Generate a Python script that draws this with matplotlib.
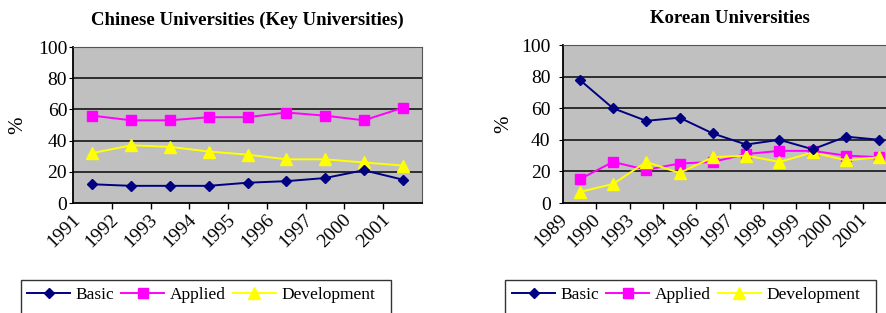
import matplotlib
matplotlib.use("Agg")
import matplotlib.pyplot as plt
import matplotlib.transforms as mtransforms
from matplotlib.patches import Rectangle

plt.rcParams['font.family'] = ['Liberation Serif', 'DejaVu Serif']

# data
cn_years = ['1991', '1992', '1993', '1994', '1995', '1996', '1997', '2000', '2001']
cn_basic = [12, 11, 11, 11, 13, 14, 16, 21, 15]
cn_applied = [56, 53, 53, 55, 55, 58, 56, 53, 61]
cn_development = [32, 37, 36, 33, 31, 28, 28, 26, 24]

kr_years = ['1989', '1990', '1993', '1994', '1996', '1997', '1998', '1999', '2000', '2001']
kr_basic = [78, 60, 52, 54, 44, 37, 40, 34, 42, 40]
kr_applied = [15, 26, 21, 25, 26, 31, 33, 33, 30, 29]
kr_development = [7, 12, 26, 19, 29, 30, 26, 32, 27, 29]

series_names = ['Basic', 'Applied', 'Development']

W, H = 886, 313
fig = plt.figure(figsize=(W / 100, H / 100), dpi=100)


def px_axes(left, top, right, bottom):
    return fig.add_axes([left / W, 1 - bottom / H, (right - left) / W, (bottom - top) / H])


def draw_panel(ax, years, basic, applied, dev, title, ytick_pad, ylab_x):
    n = len(years)
    xs = [i + 0.5 for i in range(n)]
    ax.set_facecolor('#c0c0c0')
    ax.plot(xs, basic, color='#000080', lw=1.4, marker='D', ms=5.5,
            label=series_names[0], zorder=4)
    ax.plot(xs, applied, color='#ff00ff', lw=1.4, marker='s', ms=7,
            label=series_names[1], zorder=3)
    ax.plot(xs, dev, color='#ffff00', lw=1.4, marker='^', ms=8,
            label=series_names[2], zorder=3)
    ax.set_xlim(0, n)
    ax.set_ylim(0, 100)
    ax.set_yticks(range(0, 101, 20))
    for v in range(20, 101, 20):
        ax.axhline(v, color='#222222', lw=1.3, zorder=1)
    ax.set_xticks(xs)
    ax.set_xticklabels(years, rotation=45, ha='right', va='top')
    ax.set_xticks(range(1, n), minor=True)
    ax.tick_params(axis='x', which='major', length=0, pad=6, labelsize=14)
    ax.tick_params(axis='x', which='minor', length=4, direction='out', width=1)
    ax.tick_params(axis='y', length=3, pad=ytick_pad, labelsize=14)
    shift = mtransforms.ScaledTranslation(-0.09, 0, fig.dpi_scale_trans)
    for lab in ax.get_xticklabels():
        lab.set_transform(lab.get_transform() + shift)
    for side in ['left', 'bottom']:
        ax.spines[side].set_color('black')
        ax.spines[side].set_linewidth(1.3)
    for side in ['right', 'top']:
        ax.spines[side].set_color('#555555')
        ax.spines[side].set_linewidth(0.8)
    ax.set_ylabel('%', fontsize=15)
    ax.yaxis.set_label_coords(ylab_x, 0.5)
    ax.set_title(title, fontsize=13.5, fontweight='bold', pad=16)


ax1 = px_axes(73, 47, 422, 203)
draw_panel(ax1, cn_years, cn_basic, cn_applied, cn_development,
           'Chinese Universities (Key Universities)', 1.2, -0.13)

ax2 = px_axes(563, 45, 563 + 33.3 * len(kr_years), 203)
draw_panel(ax2, kr_years, kr_basic, kr_applied, kr_development,
           'Korean Universities', 6, -0.15)

# legends with square frames running off the bottom edge
for ax, (x0, x1), cx in [(ax1, (21, 391), 201), (ax2, (505, 876), 686)]:
    handles, labels = ax.get_legend_handles_labels()
    fig.legend(handles, labels, loc='center', ncol=3, frameon=False,
               bbox_to_anchor=(cx / W, 1 - 295 / H), fontsize=12.5,
               handlelength=2.5, handletextpad=0.3, columnspacing=0.4,
               borderpad=0)
    fig.patches.append(Rectangle((x0 / W, -0.05), (x1 - x0) / W, 0.05 + 1 - 280 / H,
                                 transform=fig.transFigure, fill=False,
                                 edgecolor='#333333', lw=1))

fig.savefig('out.png', dpi=100)
